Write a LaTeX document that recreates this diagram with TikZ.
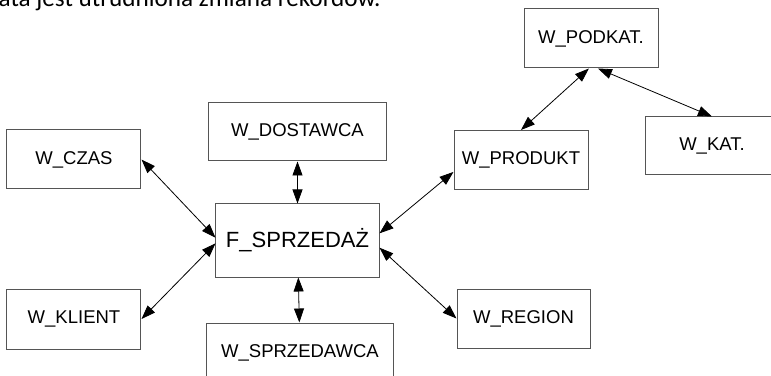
\documentclass[tikz,border=0pt]{standalone}
\usepackage{fontspec}
\setmainfont{Liberation Sans}
\newfontfamily\tekstfont{Carlito}
\usetikzlibrary{positioning, arrows.meta}
\definecolor{ramka}{RGB}{85,85,85}
\tikzset{
>={Triangle[length=14pt, width=10pt]}, % filled heads on the links
polaczenie/.style={<->, line width=0.8pt}, % every link points both ways
wymiar/.style={draw=ramka, line width=1pt, fill=white, inner sep=0pt, minimum width=134pt, minimum height=59pt, font=\fontsize{18.5}{22}\selectfont}, % dimension tables
fakt/.style={wymiar, minimum width=163pt, minimum height=73pt, font=\fontsize{22}{26}\selectfont} % the fact table
}

\begin{document}
\begin{tikzpicture}
      \useasboundingbox (-297.5pt,240.5pt) rectangle (473.5pt,-134.5pt);
      \clip (-297.5pt,240.5pt) rectangle (473.5pt,-134.5pt);
      \node[anchor=base west, inner sep=0pt, font=\tekstfont\fontsize{25.2}{28}\selectfont] (tekst) at (-299pt,233.5pt) {ata jest utrudniona zmiana rekordów.};

      \node[fakt] (sprzedaz) {F\_SPRZEDAŻ};
      \node[wymiar, minimum width=178pt, minimum height=58pt, above=42pt of sprzedaz] (dostawca) {W\_DOSTAWCA};
      \node[wymiar, minimum width=186pt, below=45pt of sprzedaz, xshift=2.5pt] (sprzedawca) {W\_SPRZEDAWCA};
      \node[wymiar, left=74pt of sprzedaz, yshift=81pt] (czas) {W\_CZAS};
      \node[wymiar, minimum height=60pt, left=74pt of sprzedaz, yshift=-78.5pt] (klient) {W\_KLIENT};
      \node[wymiar, right=74pt of sprzedaz, yshift=80.5pt] (produkt) {W\_PRODUKT};
      \node[wymiar, minimum width=133pt, right=77pt of sprzedaz, yshift=-78pt] (region) {W\_REGION};
      \node[wymiar, above=61.5pt of produkt, xshift=70pt] (podkat) {W\_PODKAT.};
      \node[wymiar, minimum height=58pt, below=48pt of podkat, xshift=121pt] (kat) {W\_KAT.};

      \draw[polaczenie] (czas.east) -- (sprzedaz.178);
      \draw[polaczenie] (klient.east) -- (sprzedaz.182);
      \draw[polaczenie] (dostawca) -- (sprzedaz);
      \draw[polaczenie] (sprzedaz) -- (sprzedawca);
      \draw[polaczenie] (sprzedaz.5) -- (produkt.190);
      \draw[polaczenie] (sprzedaz.-5) -- (region.west);
      \draw[polaczenie] (produkt.north) -- (podkat.-94);
      \draw[polaczenie] (podkat.-77) -- (kat.north);
    \end{tikzpicture}
\end{document}
